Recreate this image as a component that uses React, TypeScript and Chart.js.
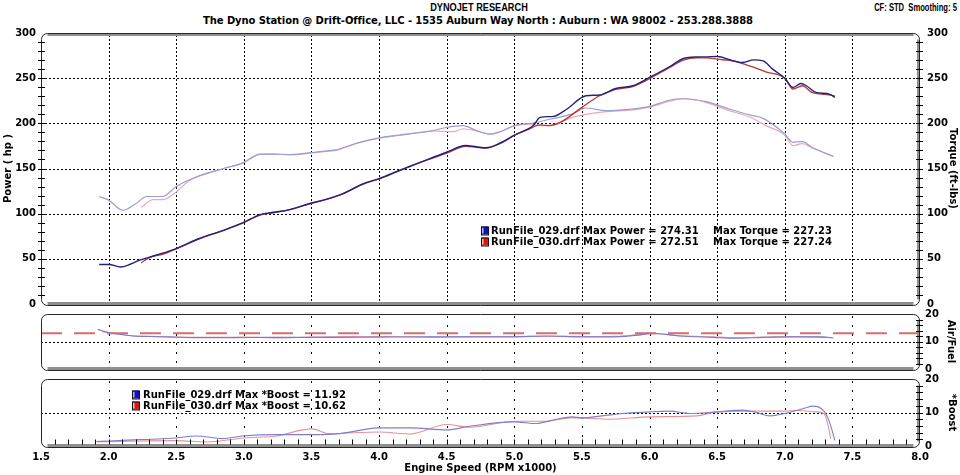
import React, { useEffect, useRef } from 'react';
import { Chart, registerables } from 'chart.js';

Chart.register(...registerables);

// ---------- text ----------
const headerTitle = 'DYNOJET RESEARCH';
const headerSub = 'The Dyno Station @ Drift-Office, LLC - 1535 Auburn Way North : Auburn : WA 98002 - 253.288.3888';
const headerInfo = 'CF: STD  Smoothing: 5';
const powerTitle = 'Power ( hp )';
const torqueTitle = 'Torque (ft-lbs)';
const afTitle = 'Air/Fuel';
const boostTitle = '*Boost';
const xTitle = 'Engine Speed (RPM x1000)';

const runNames = ['RunFile_029.drf', 'RunFile_030.drf'];
const maxPower = ['274.31', '272.51'];
const maxTorque = ['227.23', '227.24'];
const maxBoost = ['11.92', '10.62'];

// ---------- grid values ----------
const rpmGrid = [2.0, 2.5, 3.0, 3.5, 4.0, 4.5, 5.0, 5.5, 6.0, 6.5, 7.0, 7.5];
const mainGrid = [50, 100, 150, 200, 250];
const afGrid = [10];
const boostGrid = [10];

// ---------- main panel data (RPM x1000) ----------
const power029Rpm = [1.93, 2.00, 2.09, 2.16, 2.23, 2.35, 2.50, 2.67, 2.85, 2.99, 3.12, 3.22, 3.34, 3.50, 3.58, 3.73, 3.88, 4.00, 4.15, 4.32, 4.50, 4.64, 4.72, 4.79, 4.90, 5.00, 5.14, 5.19, 5.29, 5.39, 5.53, 5.63, 5.75, 5.88, 6.00, 6.15, 6.25, 6.35, 6.42, 6.50, 6.62, 6.69, 6.77, 6.84, 6.91, 7.00, 7.06, 7.12, 7.16, 7.23, 7.33, 7.37];
const power029 = [43.8, 43.8, 41.0, 44.0, 48.5, 54.0, 61.4, 72.5, 81.6, 89.7, 99.0, 101.5, 104.5, 111.8, 114.7, 122.0, 133.0, 138.7, 147.8, 157.7, 168.0, 175.4, 174.0, 172.9, 178.5, 187.0, 197.5, 206.6, 207.7, 215.9, 230.5, 231.3, 238.6, 241.6, 250.8, 262.9, 271.8, 273.5, 273.6, 274.0, 269.2, 267.3, 270.3, 269.2, 260.0, 250.0, 239.7, 244.1, 241.6, 234.2, 232.4, 228.7];

const power030Rpm = [2.24, 2.31, 2.40, 2.50, 2.67, 2.85, 2.99, 3.12, 3.22, 3.34, 3.50, 3.58, 3.73, 3.88, 4.00, 4.15, 4.32, 4.50, 4.64, 4.72, 4.79, 4.90, 5.00, 5.10, 5.19, 5.26, 5.34, 5.50, 5.63, 5.75, 5.88, 6.00, 6.15, 6.25, 6.35, 6.42, 6.50, 6.62, 6.74, 6.86, 7.00, 7.06, 7.13, 7.20, 7.30, 7.37];
const power030 = [45.6, 52.0, 55.0, 61.0, 72.0, 81.5, 89.5, 98.5, 101.0, 104.5, 111.5, 114.5, 122.0, 132.5, 138.5, 147.5, 157.5, 167.0, 174.5, 173.5, 172.5, 178.0, 186.5, 193.0, 198.2, 197.5, 201.0, 217.7, 230.5, 237.5, 241.0, 249.5, 262.0, 270.0, 272.5, 272.5, 271.0, 269.0, 263.6, 257.0, 250.0, 238.0, 241.6, 234.2, 232.0, 230.5];

const torque029Rpm = [1.93, 2.00, 2.105, 2.20, 2.28, 2.40, 2.50, 2.67, 2.85, 2.99, 3.12, 3.22, 3.34, 3.46, 3.58, 3.68, 3.83, 4.00, 4.15, 4.40, 4.50, 4.62, 4.72, 4.82, 4.90, 5.00, 5.14, 5.27, 5.43, 5.53, 5.68, 5.88, 6.00, 6.15, 6.25, 6.42, 6.59, 6.74, 6.84, 7.00, 7.06, 7.13, 7.20, 7.36];
const torque029 = [119, 115, 103.7, 111, 119, 119, 130, 142, 150, 156, 166, 166, 165.5, 167, 169, 170.6, 178, 184, 187, 192, 195.6, 197.5, 192, 188, 191, 197.5, 200.4, 204.8, 210.4, 217, 214, 216, 218.8, 225.8, 227.2, 224, 215.9, 209.3, 205.5, 188.3, 179, 179.8, 173.5, 163.3];

const torque030Rpm = [2.24, 2.33, 2.40, 2.50, 2.60, 2.67, 2.85, 2.99, 3.12, 3.22, 3.34, 3.46, 3.58, 3.68, 3.83, 4.00, 4.15, 4.40, 4.55, 4.62, 4.72, 4.82, 4.90, 5.00, 5.10, 5.21, 5.30, 5.43, 5.53, 5.68, 5.88, 6.00, 6.15, 6.25, 6.42, 6.59, 6.74, 6.86, 7.00, 7.06, 7.13, 7.20, 7.36];
const torque030 = [107, 115.5, 115.5, 124, 137, 141.5, 150, 156, 165.5, 166, 165, 166.5, 168.5, 170, 177.5, 183.5, 186.5, 191.5, 190.8, 194, 191.5, 188, 191, 197, 199, 197.5, 199, 206.6, 210, 213, 215, 218, 224.5, 227.2, 223, 214, 207, 197.5, 187, 175.4, 177.6, 173, 163.3];

// ---------- air/fuel panel ----------
const af029Rpm = [1.92, 2.00, 2.10, 2.18, 2.30, 2.43, 2.67, 2.92, 3.17, 3.41, 3.66, 4.00, 4.40, 4.74, 4.99, 5.24, 5.48, 5.73, 5.93, 6.00, 6.12, 6.22, 6.47, 6.64, 6.84, 7.09, 7.28, 7.36];
const af029 = [14.4, 13.3, 12.5, 12.0, 11.8, 11.7, 11.4, 11.4, 11.5, 11.5, 11.5, 11.6, 11.7, 11.7, 11.7, 12.0, 11.7, 11.7, 12.4, 13.0, 12.6, 12.0, 11.5, 11.2, 11.5, 11.7, 11.7, 11.3];
const af030Rpm = [1.95, 2.05, 2.15, 2.30, 2.50, 2.75, 3.00, 3.25, 3.50, 3.80, 4.10, 4.40, 4.70, 5.00, 5.25, 5.50, 5.75, 5.95, 6.05, 6.20, 6.45, 6.65, 6.85, 7.05, 7.25, 7.35];
const af030 = [13.6, 12.8, 12.2, 11.9, 11.6, 11.5, 11.6, 11.3, 11.6, 11.8, 11.8, 11.6, 11.8, 11.8, 11.9, 11.8, 11.9, 12.6, 12.8, 12.2, 11.7, 11.4, 11.6, 11.8, 11.6, 11.4];
const afTargetRpm = [1.5, 8.0];
const afTarget = [13, 13];

// ---------- boost panel ----------
const boost029Rpm = [1.91, 2.00, 2.23, 2.50, 2.65, 2.84, 2.99, 3.24, 3.50, 3.71, 4.00, 4.23, 4.50, 4.67, 5.00, 5.16, 5.31, 5.43, 5.50, 5.65, 5.80, 6.00, 6.15, 6.30, 6.50, 6.69, 6.79, 6.89, 7.00, 7.14, 7.21, 7.27, 7.31, 7.34, 7.37];
const boost029 = [1.3, 1.5, 1.9, 2.4, 3.0, 2.2, 3.0, 3.4, 3.4, 3.7, 5.4, 5.4, 4.8, 5.9, 7.2, 6.7, 8.0, 8.7, 8.4, 9.0, 9.7, 10.2, 10.4, 9.7, 10.2, 10.7, 10.0, 9.0, 9.7, 11.2, 11.9, 11.2, 9.2, 6.0, 1.7];
const boost030Rpm = [1.92, 2.00, 2.25, 2.50, 2.72, 3.00, 3.24, 3.50, 3.63, 4.00, 4.23, 4.50, 4.67, 5.00, 5.24, 5.41, 5.50, 5.70, 6.00, 6.35, 6.50, 6.79, 7.00, 7.10, 7.23, 7.29, 7.32, 7.34];
const boost030 = [1.3, 1.3, 1.5, 1.6, 1.2, 2.4, 3.0, 5.1, 3.7, 4.2, 3.6, 6.4, 5.6, 7.4, 7.4, 8.4, 8.4, 8.0, 8.7, 9.0, 10.2, 10.4, 10.4, 10.6, 10.2, 9.7, 6.2, 2.2];

// ---------- styles ----------
const FAMILY = '"DejaVu Sans", Verdana, sans-serif';
const boldFont = { family: FAMILY, size: 10, weight: 'bold' as const };
const C = {
  p029: '#22227a',
  p030: '#b83838',
  t029: '#9c9cd6',
  t030: '#eba8b8',
  a029: '#7b7bc8',
  a030: '#e094a4',
  b029: '#7f7fd0',
  b030: '#e39494',
  target: '#d86c6c',
  sq029: '#1010c8',
  sq030: '#d81818',
};

function pts(xs: number[], ys: number[]) {
  return xs.map((x, i) => ({ x, y: ys[i] }));
}

function lineDs(xs: number[], ys: number[], color: string, width: number, extra: any = {}) {
  return {
    data: pts(xs, ys),
    borderColor: color,
    backgroundColor: color,
    borderWidth: width,
    pointRadius: 0,
    fill: false,
    cubicInterpolationMode: 'monotone',
    ...extra,
  };
}

function xAxis(showLabels: boolean, height: number) {
  return {
    type: 'linear',
    position: 'bottom',
    min: 1.5,
    max: 8,
    grid: { display: false, drawTicks: false },
    border: { display: false },
    ticks: {
      display: showLabels,
      stepSize: 0.5,
      autoSkip: false,
      maxRotation: 0,
      minRotation: 0,
      padding: 5,
      color: '#000',
      font: boldFont,
      callback: (v: any) => Number(v).toFixed(1),
    },
    title: showLabels
      ? { display: true, text: xTitle, color: '#000', font: boldFont, padding: { top: 0, bottom: 1 } }
      : { display: false },
    afterFit: (s: any) => {
      s.height = height;
    },
  };
}

function yAxis(position: string, max: number, step: number, labelEvery: number, title: string, width: number, labelPad: number, titlePad: number) {
  return {
    type: 'linear',
    position,
    min: 0,
    max,
    grid: { display: false, drawTicks: false },
    border: { display: false },
    ticks: {
      stepSize: step,
      autoSkip: false,
      padding: labelPad,
      color: '#000',
      font: boldFont,
      callback: (v: any) => (Math.abs(v % labelEvery) < 1e-6 ? String(v) : ''),
    },
    title: { display: true, text: title, color: '#000', font: boldFont, padding: { top: titlePad, bottom: titlePad } },
    afterFit: (s: any) => {
      s.width = width;
    },
  };
}

type LegendItem = { y: number; color: string; texts: { x: number; text: string }[] };
type PanelSpec = {
  vDash: number[];
  hScale: string;
  hGrid: number[];
  hDash: number[];
  tickAxes: { scale: string; side: 'left' | 'right'; step: number }[];
  topBand: boolean;
  bottomTicks: boolean;
  legendX?: number;
  legend?: LegendItem[];
};

function roundRectPath(ctx: CanvasRenderingContext2D, x: number, y: number, w: number, h: number, r: number) {
  ctx.beginPath();
  ctx.moveTo(x + r, y);
  ctx.lineTo(x + w - r, y);
  ctx.arcTo(x + w, y, x + w, y + r, r);
  ctx.lineTo(x + w, y + h - r);
  ctx.arcTo(x + w, y + h, x + w - r, y + h, r);
  ctx.lineTo(x + r, y + h);
  ctx.arcTo(x, y + h, x, y + h - r, r);
  ctx.lineTo(x, y + r);
  ctx.arcTo(x, y, x + r, y, r);
  ctx.closePath();
}

function makePanelPlugin(spec: PanelSpec) {
  return {
    id: 'dynoPanel',
    beforeDatasetsDraw(chart: any) {
      const { ctx, chartArea: a, scales } = chart;
      ctx.save();
      ctx.strokeStyle = '#000';
      ctx.lineWidth = 1;
      const xs = scales.x;
      ctx.setLineDash(spec.vDash);
      for (const v of rpmGrid) {
        const px = Math.round(xs.getPixelForValue(v)) + 0.5;
        ctx.beginPath();
        ctx.moveTo(px, a.top + 2);
        ctx.lineTo(px, a.bottom);
        ctx.stroke();
      }
      ctx.setLineDash(spec.hDash);
      const ys = scales[spec.hScale];
      for (const v of spec.hGrid) {
        const py = Math.round(ys.getPixelForValue(v)) + 0.5;
        ctx.beginPath();
        ctx.moveTo(a.left, py);
        ctx.lineTo(a.right, py);
        ctx.stroke();
      }
      ctx.restore();
    },
    afterDatasetsDraw(chart: any) {
      const { ctx, chartArea: a, scales } = chart;
      const L = Math.round(a.left) + 0.5;
      const R = Math.round(a.right) - 0.5;
      const T = Math.round(a.top) + 0.5;
      const B = Math.round(a.bottom) + 1.5;
      const r = 6;
      ctx.save();
      ctx.setLineDash([]);
      // grey shading bands
      ctx.fillStyle = '#8f8f8f';
      ctx.fillRect(L + r, B - 3.5, R - L - 2 * r, 3.5);
      if (spec.topBand) ctx.fillRect(L + r, T, R - L - 2 * r, 2.5);
      ctx.fillRect(R - 2.5, T + r, 2.5, B - T - 2 * r);
      // outline
      ctx.strokeStyle = '#262626';
      ctx.lineWidth = 1;
      roundRectPath(ctx, L, T, R - L, B - T, r);
      ctx.stroke();
      // axis tick marks crossing the frame
      ctx.strokeStyle = '#000';
      for (const t of spec.tickAxes) {
        const s = scales[t.scale];
        const x = t.side === 'left' ? L : R;
        const n = Math.round((s.max - s.min) / t.step);
        for (let i = 1; i < n; i++) {
          const v = s.min + i * t.step;
          const y = Math.round(s.getPixelForValue(v)) + 0.5;
          ctx.beginPath();
          ctx.moveTo(x - 3.5, y);
          ctx.lineTo(x + 3.5, y);
          ctx.stroke();
        }
      }
      if (spec.bottomTicks) {
        const xs = scales.x;
        for (let i = 16; i < 80; i++) {
          const px = Math.round(xs.getPixelForValue(i / 10)) + 0.5;
          ctx.beginPath();
          ctx.moveTo(px, B - 3);
          ctx.lineTo(px, B - 8);
          ctx.stroke();
        }
      }
      // in-plot legend
      if (spec.legend && spec.legendX !== undefined) {
        ctx.font = `bold 10px ${FAMILY}`;
        ctx.textBaseline = 'middle';
        ctx.textAlign = 'left';
        const sx = spec.legendX;
        for (const item of spec.legend) {
          ctx.fillStyle = item.color;
          ctx.fillRect(sx, item.y - 4, 7, 8);
          ctx.fillStyle = 'rgba(255,255,255,0.7)';
          ctx.fillRect(sx + 1, item.y - 3, 1.5, 6);
          ctx.strokeStyle = '#111';
          ctx.strokeRect(sx + 0.5, item.y - 3.5, 7, 8);
          ctx.fillStyle = '#000';
          for (const t of item.texts) ctx.fillText(t.text, t.x, item.y + 0.5);
        }
      }
      ctx.restore();
    },
  };
}

function baseOptions(padding: any) {
  return {
    responsive: false,
    animation: false,
    events: [],
    layout: { padding },
    plugins: { legend: { display: false }, tooltip: { enabled: false }, title: { display: false } },
  };
}

function mainConfig(): any {
  return {
    type: 'line',
    data: {
      datasets: [
        lineDs(power029Rpm, power029, C.p029, 1.4),
        lineDs(power030Rpm, power030, C.p030, 1.3),
        lineDs(torque029Rpm, torque029, C.t029, 1.2),
        lineDs(torque030Rpm, torque030, C.t030, 1.2),
      ],
    },
    options: {
      ...baseOptions({ top: 33, bottom: 171, left: 0, right: 0 }),
      scales: {
        x: xAxis(false, 0),
        y: yAxis('left', 300, 10, 50, powerTitle, 41, 5, 2.5),
        y2: yAxis('right', 300, 10, 50, torqueTitle, 40, 7, 1),
      },
    },
    plugins: [
      makePanelPlugin({
        vDash: [2, 2],
        hScale: 'y',
        hGrid: mainGrid,
        hDash: [2, 2],
        tickAxes: [
          { scale: 'y', side: 'left', step: 10 },
          { scale: 'y2', side: 'right', step: 10 },
        ],
        topBand: true,
        bottomTicks: false,
        legendX: 481,
        legend: [
          { y: 230.5, color: C.sq029, texts: [{ x: 491, text: `${runNames[0]} Max Power = ${maxPower[0]}` }, { x: 713, text: `Max Torque = ${maxTorque[0]}` }] },
          { y: 241.5, color: C.sq030, texts: [{ x: 491, text: `${runNames[1]} Max Power = ${maxPower[1]}` }, { x: 713, text: `Max Torque = ${maxTorque[1]}` }] },
        ],
      }),
    ],
  };
}

function afConfig(): any {
  return {
    type: 'line',
    data: {
      datasets: [
        lineDs(af029Rpm, af029, C.a029, 1.1),
        lineDs(af030Rpm, af030, C.a030, 1.1),
        lineDs(afTargetRpm, afTarget, C.target, 2, { borderDash: [21, 12], cubicInterpolationMode: 'default', tension: 0 }),
      ],
    },
    options: {
      ...baseOptions({ top: 314, bottom: 106, left: 41, right: 0 }),
      scales: {
        x: xAxis(false, 0),
        y: yAxis('right', 20, 2, 10, afTitle, 40, 5, 3),
      },
    },
    plugins: [
      makePanelPlugin({
        vDash: [2, 7],
        hScale: 'y',
        hGrid: afGrid,
        hDash: [2, 2],
        tickAxes: [{ scale: 'y', side: 'right', step: 2 }],
        topBand: false,
        bottomTicks: false,
      }),
    ],
  };
}

function boostConfig(): any {
  return {
    type: 'line',
    data: {
      datasets: [
        lineDs(boost029Rpm, boost029, C.b029, 1.1),
        lineDs(boost030Rpm, boost030, C.b030, 1.1),
      ],
    },
    options: {
      ...baseOptions({ top: 379, bottom: 0, left: 41, right: 0 }),
      scales: {
        x: xAxis(true, 29),
        y: yAxis('right', 20, 2, 10, boostTitle, 40, 5, 2),
      },
    },
    plugins: [
      makePanelPlugin({
        vDash: [2, 7],
        hScale: 'y',
        hGrid: boostGrid,
        hDash: [2, 2],
        tickAxes: [{ scale: 'y', side: 'right', step: 2 }],
        topBand: false,
        bottomTicks: true,
        legendX: 132,
        legend: [
          { y: 394.5, color: C.sq029, texts: [{ x: 143, text: `${runNames[0]} Max *Boost = ${maxBoost[0]}` }] },
          { y: 405.5, color: C.sq030, texts: [{ x: 143, text: `${runNames[1]} Max *Boost = ${maxBoost[1]}` }] },
        ],
      }),
    ],
  };
}

function ChartLayer({ make }: { make: () => any }) {
  const ref = useRef<HTMLCanvasElement>(null);
  useEffect(() => {
    if (!ref.current) return;
    const chart = new Chart(ref.current, make());
    return () => chart.destroy();
  }, [make]);
  return (
    <canvas
      ref={ref}
      width={960}
      height={475}
      style={{ position: 'absolute', left: 0, top: 0, width: 960, height: 475 }}
    />
  );
}

const headerFont = '"Liberation Sans", Arial, sans-serif';

export default function App() {
  return (
    <div style={{ position: 'absolute', left: 0, top: 0, width: 960, height: 475, background: '#fff', overflow: 'hidden' }}>
      <div style={{ position: 'absolute', left: 0, top: 2, width: 958, textAlign: 'center', fontFamily: headerFont, fontWeight: 'bold', fontSize: 10, lineHeight: '12px', color: '#000', transform: 'scaleX(0.92)', transformOrigin: '479px 0' }}>
        {headerTitle}
      </div>
      <div style={{ position: 'absolute', left: 0, top: 15, width: 956, textAlign: 'center', fontFamily: FAMILY, fontWeight: 'bold', fontSize: 10, lineHeight: '12px', letterSpacing: '-0.1px', color: '#000', whiteSpace: 'nowrap' }}>
        {headerSub}
      </div>
      <div style={{ position: 'absolute', right: 3, top: 2, fontFamily: headerFont, fontWeight: 'bold', fontSize: 10, lineHeight: '12px', color: '#000', whiteSpace: 'pre', transform: 'scaleX(0.76)', transformOrigin: '100% 0' }}>
        {headerInfo}
      </div>
      <ChartLayer make={mainConfig} />
      <ChartLayer make={afConfig} />
      <ChartLayer make={boostConfig} />
    </div>
  );
}
